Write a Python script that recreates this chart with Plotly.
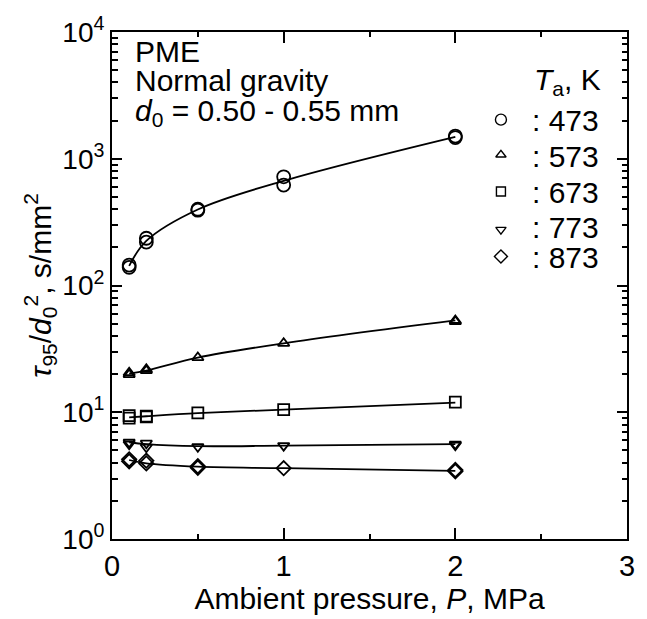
import plotly.graph_objects as go

# ---------------- data ----------------
P_473 = [0.1, 0.1, 0.2, 0.2, 0.5, 0.5, 1.0, 1.0, 2.0, 2.0]
tau_473 = [145, 139, 220, 236, 400, 393, 720, 620, 1470, 1510]

P_573 = [0.1, 0.1, 0.2, 0.2, 0.5, 1.0, 2.0, 2.0]
tau_573 = [20.5, 19.8, 21.3, 21.8, 27, 35, 53, 52]

P_673 = [0.1, 0.1, 0.2, 0.2, 0.5, 1.0, 2.0]
tau_673 = [9.0, 9.4, 9.3, 9.2, 9.9, 10.5, 12.0]

P_773 = [0.1, 0.1, 0.2, 0.2, 0.5, 1.0, 2.0, 2.0]
tau_773 = [5.8, 5.6, 5.7, 5.3, 5.35, 5.45, 5.6, 5.5]

P_873 = [0.1, 0.1, 0.2, 0.2, 0.5, 0.5, 1.0, 2.0, 2.0]
tau_873 = [4.25, 4.1, 3.95, 4.15, 3.75, 3.65, 3.62, 3.5, 3.42]

# fitted curves
P_fit = [0.1, 0.2, 0.5, 1.0, 2.0]
fit_473 = [143, 225, 398, 670, 1490]
fit_573 = [20.2, 21.3, 27, 35, 53]
fit_673 = [9.1, 9.3, 9.85, 10.5, 11.9]
fit_773 = [5.8, 5.6, 5.4, 5.45, 5.6]
fit_873 = [4.2, 3.95, 3.72, 3.62, 3.45]

temps = ["473", "573", "673", "773", "873"]
x_ticks = [0, 1, 2, 3]
y_ticks = [1, 10, 100, 1000, 10000]
y_ticktext = ["10<sup>0</sup>", "10<sup>1</sup>", "10<sup>2</sup>", "10<sup>3</sup>", "10<sup>4</sup>"]

# ---------------- layout geometry ----------------
W, H = 647, 619
L, R, T, B = 112, 19, 26, 74
PW, PH = W - L - R, H - T - B
FONT = "Liberation Sans, Arial, sans-serif"
FS = 30


def px_to_paper(px, py):
    return (px - L) / PW, (H - B - py) / PH


def px_to_data(px, py):
    x = (px - L) / PW * 3.0
    ylog = (H - B - py) / PH * 4.0
    return x, 10 ** ylog


series = [
    (P_473, tau_473, fit_473, "circle-open", 13, 11),
    (P_573, tau_573, fit_573, "triangle-up-open", 10, 9),
    (P_673, tau_673, fit_673, "square-open", 11, 9),
    (P_773, tau_773, fit_773, "triangle-down-open", 10, 9),
    (P_873, tau_873, fit_873, "diamond-open", 11, 10),
]

fig = go.Figure()
for px_, ty, fy, sym, sz, _ in series:
    fig.add_trace(go.Scatter(x=P_fit, y=fy, mode="lines",
                             line=dict(color="black", width=1.8, shape="spline"),
                             hoverinfo="skip"))
    fig.add_trace(go.Scatter(x=px_, y=ty, mode="markers",
                             marker=dict(symbol=sym, size=sz, color="black",
                                         line=dict(width=1.8, color="black"))))

# legend (custom)
leg_px = [(501.7, 115.7), (501.7, 151.7), (501.7, 189.3), (501.7, 228.3), (501.7, 255.7)]
leg_base = [127.3, 164, 201, 236.7, 267.3]
for (mx, my), (_, _, _, sym, _, lsz), t, yb in zip(leg_px, series, temps, leg_base):
    dx, dy = px_to_data(mx, my)
    fig.add_trace(go.Scatter(x=[dx], y=[dy], mode="markers",
                             marker=dict(symbol=sym, size=lsz, color="black",
                                         line=dict(width=1.4, color="black")),
                             cliponaxis=False))
    ax, ay = px_to_paper(531, yb - 0.36 * FS)
    fig.add_annotation(x=ax, y=ay, xref="paper", yref="paper", text=": " + t,
                       showarrow=False, xanchor="left", yanchor="middle",
                       font=dict(size=FS, color="black", family=FONT))

ax, ay = px_to_paper(533, 84 - 0.36 * FS + 3)
fig.add_annotation(x=ax, y=ay, xref="paper", yref="paper",
                   text="<i>T</i><sub>a</sub>, K", showarrow=False,
                   xanchor="left", yanchor="middle",
                   font=dict(size=FS, color="black", family=FONT))

for txt, yb, adj in [("PME", 56.7, 0), ("Normal gravity", 86.7, 0),
                     ("<i>d</i><sub>0</sub> = 0.50 - 0.55 mm", 116.7, 3)]:
    ax, ay = px_to_paper(133, yb - 0.36 * FS + adj)
    fig.add_annotation(x=ax, y=ay, xref="paper", yref="paper", text=txt,
                       showarrow=False, xanchor="left", yanchor="middle",
                       font=dict(size=FS, color="black", family=FONT))

fig.update_layout(
    width=W, height=H,
    margin=dict(l=L, r=R, t=T, b=B),
    paper_bgcolor="white", plot_bgcolor="white",
    showlegend=False,
    font=dict(family=FONT, color="black"),
    xaxis=dict(range=[0, 3], tickvals=x_ticks, ticks="inside", ticklen=11,
               tickwidth=1.5, tickcolor="black",
               minor=dict(tickvals=[0.5, 1.5, 2.5], ticks="inside", ticklen=5,
                          tickwidth=1.5, tickcolor="black"),
               showline=True, linewidth=2, linecolor="black", mirror="ticks",
               showgrid=False, zeroline=False,
               tickfont=dict(size=29, family=FONT, color="black"),
               title=dict(text="Ambient pressure, <i>P</i>, MPa",
                          font=dict(size=FS, family=FONT, color="black"),
                          standoff=4)),
    yaxis=dict(type="log", range=[0, 4], tickvals=y_ticks, ticktext=y_ticktext,
               ticks="inside", ticklen=10, tickwidth=1.5, tickcolor="black",
               minor=dict(tickvals=[m * 10 ** k for k in range(4) for m in range(2, 10)],
                          ticks="inside", ticklen=5.5, tickwidth=1.5, tickcolor="black"),
               showline=True, linewidth=2, linecolor="black", mirror="ticks",
               showgrid=False, zeroline=False,
               tickfont=dict(size=28, family=FONT, color="black"),
               title=dict(text="<i>τ</i><sub>95</sub>/<i>d</i><sub>0</sub><sup>2</sup>, s/mm<sup>2</sup>",
                          font=dict(size=FS, family=FONT, color="black"),
                          standoff=2)),
)

fig.write_html("out.html")
